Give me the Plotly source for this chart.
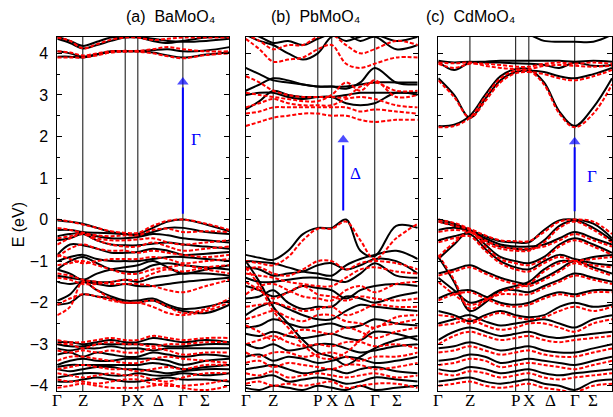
import plotly.graph_objects as go

W, H = 613, 417

# ---------------- data (eV) ----------------
# High-symmetry point positions (fraction of panel width): Γ, Z, P, X, Γ, end(Σ side)
KP_A = [0.0, 0.148, 0.395, 0.468, 0.730, 1.0]
KP_B = [0.0, 0.160, 0.419, 0.500, 0.750, 1.0]
KP_C = [0.0, 0.182, 0.445, 0.521, 0.785, 1.0]

K_LABELS = ["Γ", "Z", "P", "X", "Δ", "Γ", "Σ"]
DELTA_POS = [0.591, 0.601, 0.644]
SIGMA_POS = [0.859, 0.878, 0.893]
TITLES = ["(a)  BaMoO₄", "(b)  PbMoO₄", "(c)  CdMoO₄"]

# band energies sampled at 12 points along the path
A_BLACK = [
    [4.05, 4.0, 3.92, 3.98, 4.05, 4.05, 4.05, 4.02, 3.95, 3.9, 3.97, 4.02],
    [3.92, 3.92, 3.9, 3.97, 4.04, 4.05, 4.05, 4.08, 4.1, 4.05, 4.07, 4.15],
    [4.35, 4.25, 4.12, 4.2, 4.3, 4.38, 4.38, 4.3, 4.25, 4.3, 4.38, 4.4],
    [4.4, 4.3, 4.18, 4.28, 4.38, 4.4, 4.4, 4.35, 4.3, 4.28, 4.3, 4.35],
    [-0.02, -0.05, -0.1, -0.2, -0.3, -0.35, -0.35, -0.2, -0.05, 0.0, -0.12, -0.28],
    [-0.25, -0.25, -0.3, -0.32, -0.33, -0.35, -0.38, -0.3, -0.2, -0.2, -0.3, -0.35],
    [-0.4, -0.35, -0.32, -0.4, -0.45, -0.45, -0.42, -0.35, -0.38, -0.45, -0.5, -0.55],
    [-0.5, -0.45, -0.35, -0.5, -0.6, -0.62, -0.62, -0.58, -0.55, -0.6, -0.65, -0.7],
    [-0.85, -0.6, -0.62, -0.7, -0.8, -0.8, -0.78, -0.7, -0.75, -0.85, -0.82, -0.78],
    [-1.0, -0.9, -0.85, -0.95, -1.0, -1.0, -1.0, -0.95, -0.9, -0.9, -0.95, -1.0],
    [-1.2, -1.0, -0.9, -1.05, -1.2, -1.25, -1.25, -1.1, -1.05, -1.1, -1.15, -1.2],
    [-1.2, -1.3, -1.45, -1.3, -1.2, -1.15, -1.1, -1.0, -1.15, -1.3, -1.2, -1.1],
    [-1.35, -1.4, -1.45, -1.5, -1.5, -1.45, -1.5, -1.4, -1.35, -1.3, -1.3, -1.35],
    [-1.5, -1.55, -1.5, -1.55, -1.6, -1.55, -1.6, -1.6, -1.55, -1.5, -1.45, -1.4],
    [-1.95, -1.8, -1.5, -1.7, -1.85, -1.95, -1.95, -1.9, -2.05, -2.15, -2.1, -1.95],
    [-2.05, -2.0, -1.8, -1.85, -1.9, -2.0, -2.0, -1.95, -2.1, -2.2, -2.25, -2.05],
    [-2.95, -2.95, -3.0, -2.95, -2.9, -2.95, -2.95, -2.85, -2.9, -2.95, -2.9, -2.95],
    [-3.0, -3.05, -3.05, -3.0, -3.0, -3.0, -3.0, -3.0, -3.05, -3.05, -3.0, -3.0],
    [-3.1, -3.15, -3.1, -3.1, -3.05, -3.1, -3.1, -3.15, -3.1, -3.1, -3.1, -3.1],
    [-3.25, -3.2, -3.3, -3.2, -3.25, -3.3, -3.3, -3.2, -3.25, -3.3, -3.25, -3.3],
    [-3.5, -3.4, -3.35, -3.4, -3.4, -3.35, -3.35, -3.35, -3.4, -3.5, -3.4, -3.35],
    [-3.55, -3.5, -3.5, -3.5, -3.5, -3.5, -3.5, -3.45, -3.5, -3.6, -3.55, -3.5],
    [-3.6, -3.65, -3.6, -3.55, -3.55, -3.6, -3.6, -3.65, -3.7, -3.65, -3.6, -3.6],
    [-3.8, -3.75, -3.7, -3.7, -3.75, -3.75, -3.7, -3.75, -3.75, -3.7, -3.75, -3.7],
    [-3.9, -3.9, -3.85, -3.8, -3.85, -3.9, -3.9, -3.85, -3.8, -3.85, -3.85, -3.9],
]
A_RED = [
    [3.9, 3.9, 3.9, 3.95, 4.02, 4.04, 4.04, 4.0, 3.93, 3.88, 3.96, 4.0],
    [4.05, 4.02, 3.95, 4.0, 4.05, 4.06, 4.06, 4.1, 4.15, 4.1, 4.05, 4.05],
    [4.38, 4.3, 4.12, 4.22, 4.33, 4.38, 4.38, 4.32, 4.35, 4.38, 4.38, 4.38],
    [0.0, -0.05, -0.12, -0.2, -0.28, -0.32, -0.32, -0.15, -0.03, 0.0, -0.1, -0.25],
    [-0.2, -0.25, -0.32, -0.38, -0.4, -0.38, -0.38, -0.25, -0.22, -0.3, -0.28, -0.3],
    [-0.45, -0.4, -0.32, -0.45, -0.5, -0.5, -0.48, -0.45, -0.55, -0.6, -0.55, -0.5],
    [-0.6, -0.45, -0.35, -0.5, -0.6, -0.65, -0.65, -0.55, -0.65, -0.75, -0.7, -0.65],
    [-0.9, -0.7, -0.6, -0.7, -0.75, -0.75, -0.8, -0.75, -0.8, -0.85, -0.9, -0.85],
    [-0.85, -0.95, -1.05, -1.0, -0.95, -0.95, -0.95, -0.9, -0.95, -1.05, -1.0, -0.95],
    [-1.1, -1.05, -1.0, -1.1, -1.2, -1.3, -1.3, -1.2, -1.15, -1.1, -1.2, -1.3],
    [-1.4, -1.45, -1.55, -1.55, -1.5, -1.45, -1.45, -1.3, -1.2, -1.25, -1.15, -1.1],
    [-1.3, -1.35, -1.45, -1.5, -1.55, -1.55, -1.55, -1.6, -1.7, -1.75, -1.6, -1.45],
    [-2.3, -2.1, -1.5, -1.7, -1.9, -2.0, -2.0, -2.1, -2.25, -2.3, -2.2, -2.0],
    [-2.05, -1.9, -1.8, -1.85, -1.95, -2.0, -2.0, -1.95, -2.1, -2.25, -2.15, -1.9],
    [-2.9, -2.95, -2.95, -2.9, -2.85, -2.9, -2.9, -2.8, -2.85, -2.9, -2.85, -2.85],
    [-3.0, -3.0, -3.1, -3.0, -2.95, -3.0, -3.0, -3.05, -3.0, -3.0, -2.95, -2.95],
    [-3.15, -3.2, -3.15, -3.2, -3.15, -3.2, -3.2, -3.1, -3.15, -3.25, -3.2, -3.2],
    [-3.4, -3.3, -3.3, -3.35, -3.4, -3.45, -3.45, -3.35, -3.3, -3.35, -3.4, -3.45],
    [-3.6, -3.55, -3.5, -3.55, -3.6, -3.6, -3.65, -3.6, -3.55, -3.6, -3.5, -3.5],
    [-3.7, -3.75, -3.8, -3.75, -3.7, -3.75, -3.75, -3.85, -3.9, -3.8, -3.7, -3.7],
    [-3.85, -3.9, -3.9, -3.95, -3.9, -3.85, -3.85, -3.95, -4.0, -4.0, -3.95, -3.85],
    [-4.05, -4.0, -3.95, -4.0, -4.05, -4.05, -4.05, -4.0, -3.95, -4.05, -4.1, -4.0],
]

B_BLACK = [
    [3.65, 3.5, 3.35, 3.3, 3.25, 3.2, 3.2, 3.15, 3.3, 3.65, 3.3, 3.25],
    [3.1, 3.25, 3.4, 3.35, 3.25, 3.2, 3.2, 3.2, 3.25, 3.3, 3.3, 3.3],
    [2.65, 2.85, 3.1, 3.0, 2.95, 2.95, 2.95, 2.8, 2.75, 2.8, 3.05, 3.0],
    [3.0, 3.05, 3.05, 2.95, 2.9, 2.95, 2.95, 3.0, 3.05, 3.05, 3.05, 3.05],
    [4.45, 4.3, 4.2, 4.0, 3.85, 4.0, 4.4, 4.45, 4.3, 4.4, 4.1, 4.2],
    [4.5, 4.4, 4.25, 4.3, 4.2, 4.35, 4.45, 4.3, 4.4, 4.45, 4.3, 4.4],
    [-0.85, -0.92, -0.97, -0.75, -0.35, -0.2, -0.2, 0.0, -0.75, -0.88, -0.15, -0.2],
    [-1.0, -1.02, -1.05, -1.15, -1.25, -1.3, -1.35, -1.1, -0.95, -0.85, -0.75, -0.95],
    [-1.15, -1.2, -1.35, -1.3, -1.25, -1.1, -1.05, -1.2, -1.1, -0.95, -1.0, -1.3],
    [-1.4, -1.5, -1.5, -1.45, -1.4, -1.4, -1.45, -1.5, -1.3, -1.05, -1.35, -1.4],
    [-1.6, -1.7, -1.85, -1.75, -1.6, -1.65, -1.7, -1.9, -1.7, -1.6, -1.55, -1.6],
    [-1.9, -1.85, -1.7, -2.0, -2.15, -2.1, -2.1, -1.85, -1.9, -2.0, -1.85, -1.75],
    [-2.3, -2.1, -2.0, -2.15, -2.3, -2.4, -2.4, -2.2, -2.05, -2.1, -2.15, -2.2],
    [-2.6, -2.55, -2.4, -2.5, -2.6, -2.55, -2.5, -2.6, -2.55, -2.4, -2.5, -2.55],
    [-2.75, -2.8, -2.7, -2.8, -2.85, -2.8, -2.75, -2.85, -2.9, -2.7, -2.75, -2.9],
    [-3.0, -3.1, -3.0, -3.15, -3.1, -3.0, -3.0, -3.1, -3.2, -3.15, -3.05, -3.0],
    [-3.3, -3.25, -3.4, -3.3, -3.35, -3.45, -3.4, -3.3, -3.35, -3.45, -3.4, -3.3],
    [-3.6, -3.55, -3.5, -3.6, -3.7, -3.65, -3.6, -3.7, -3.6, -3.55, -3.65, -3.7],
    [-3.85, -3.8, -3.75, -3.9, -3.85, -3.8, -3.85, -3.95, -3.9, -3.8, -3.85, -3.9],
    [-4.05, -4.1, -4.0, -4.05, -4.1, -4.0, -4.05, -4.1, -4.0, -4.1, -4.05, -4.0],
    [-1.0, -1.5, -2.1, -2.5, -2.9, -3.2, -3.3, -3.5, -3.3, -3.1, -2.9, -2.8],
]
B_RED = [
    [2.25, 2.35, 2.45, 2.5, 2.55, 2.55, 2.5, 2.5, 2.4, 2.35, 2.4, 2.4],
    [2.55, 2.6, 2.7, 2.7, 2.7, 2.7, 2.7, 2.7, 2.6, 2.65, 2.6, 2.55],
    [2.7, 2.8, 2.9, 2.8, 2.75, 2.75, 2.75, 2.9, 2.95, 2.9, 2.75, 2.7],
    [3.05, 3.0, 2.95, 2.9, 2.85, 2.85, 3.0, 3.3, 3.1, 3.35, 2.95, 3.0],
    [3.45, 3.3, 3.1, 3.0, 2.95, 2.95, 2.95, 2.95, 3.2, 3.3, 3.1, 3.1],
    [4.35, 4.1, 3.8, 3.85, 3.9, 4.1, 4.2, 3.75, 3.65, 3.75, 3.9, 3.9],
    [4.45, 4.3, 4.1, 4.2, 4.2, 4.4, 4.45, 4.2, 4.0, 4.1, 4.3, 4.2],
    [-1.0, -1.05, -1.1, -0.9, -0.5, -0.22, -0.22, -0.05, -0.5, -0.95, -0.45, -0.1],
    [-1.2, -1.15, -1.3, -1.35, -1.2, -1.0, -1.0, -1.2, -1.05, -1.0, -1.05, -1.2],
    [-1.3, -1.35, -1.4, -1.5, -1.55, -1.6, -1.6, -1.4, -1.2, -1.15, -1.25, -1.3],
    [-1.5, -1.7, -1.9, -1.75, -1.6, -1.8, -1.85, -1.95, -1.85, -1.9, -1.95, -1.9],
    [-1.8, -1.6, -1.55, -1.7, -1.85, -1.9, -1.95, -1.7, -1.6, -1.75, -1.55, -1.5],
    [-2.1, -2.05, -2.0, -2.1, -2.2, -2.15, -2.1, -2.3, -2.2, -2.05, -2.1, -2.1],
    [-2.4, -2.3, -2.2, -2.35, -2.45, -2.3, -2.3, -2.45, -2.5, -2.6, -2.35, -2.3],
    [-2.55, -2.7, -2.9, -2.75, -2.65, -2.7, -2.75, -2.6, -2.7, -2.85, -2.7, -2.6],
    [-3.0, -2.9, -2.8, -2.95, -3.05, -3.0, -3.05, -2.95, -2.95, -3.05, -3.0, -3.1],
    [-3.2, -3.3, -3.2, -3.2, -3.3, -3.25, -3.2, -3.3, -3.4, -3.3, -3.3, -3.2],
    [-3.45, -3.4, -3.55, -3.45, -3.5, -3.55, -3.6, -3.5, -3.5, -3.6, -3.55, -3.45],
    [-3.7, -3.75, -3.65, -3.8, -3.75, -3.7, -3.75, -3.8, -3.75, -3.7, -3.8, -3.75],
    [-3.95, -3.9, -4.0, -3.95, -4.0, -3.95, -3.9, -4.05, -4.0, -3.95, -3.95, -4.05],
    [-1.15, -1.6, -2.2, -2.6, -3.0, -3.3, -3.35, -3.2, -2.9, -2.6, -2.5, -2.4],
]

C_BLACK = [
    [2.25, 2.28, 2.5, 3.0, 3.45, 3.62, 3.62, 3.3, 2.6, 2.25, 2.7, 3.4],
    [3.4, 3.0, 2.45, 2.9, 3.35, 3.55, 3.58, 3.55, 3.45, 3.4, 3.5, 3.65],
    [3.8, 3.6, 3.78, 3.8, 3.82, 3.82, 3.82, 3.82, 3.82, 3.8, 3.82, 3.8],
    [3.82, 3.78, 3.8, 3.78, 3.78, 3.76, 3.75, 3.72, 3.65, 3.78, 3.7, 3.72],
    [4.45, 4.5, 4.5, 4.5, 4.5, 4.5, 4.45, 4.3, 4.28, 4.28, 4.28, 4.45],
    [0.0, -0.1, -0.25, -0.4, -0.52, -0.55, -0.55, -0.25, -0.02, 0.0, -0.1, -0.45],
    [-0.05, -0.15, -0.27, -0.5, -0.65, -0.7, -0.72, -0.5, -0.15, -0.02, -0.2, -0.5],
    [-0.25, -0.2, -0.28, -0.45, -0.6, -0.65, -0.65, -0.6, -0.45, -0.3, -0.45, -0.6],
    [-0.95, -0.6, -0.27, -0.6, -0.9, -1.0, -1.05, -0.9, -0.6, -0.45, -0.6, -0.8],
    [-0.9, -1.5, -2.2, -2.0, -1.7, -1.6, -1.5, -1.2, -1.0, -1.0, -0.9, -0.85],
    [-0.5, -0.4, -0.35, -0.7, -1.0, -1.15, -1.2, -1.0, -0.85, -0.95, -1.05, -1.1],
    [-1.3, -1.2, -1.1, -1.25, -1.4, -1.5, -1.55, -1.4, -1.2, -1.0, -1.15, -1.3],
    [-1.4, -1.7, -2.0, -1.9, -1.7, -1.7, -1.75, -1.6, -1.45, -1.3, -1.4, -1.5],
    [-1.9, -1.75, -1.7, -1.85, -2.0, -2.05, -2.0, -1.85, -1.75, -1.8, -1.7, -1.7],
    [-2.2, -2.3, -2.45, -2.3, -2.2, -2.3, -2.35, -2.3, -2.1, -2.0, -2.1, -2.05],
    [-2.5, -2.4, -2.3, -2.45, -2.55, -2.5, -2.45, -2.4, -2.5, -2.6, -2.4, -2.3],
    [-2.9, -2.7, -2.6, -2.7, -2.8, -2.75, -2.7, -2.8, -2.85, -2.8, -2.75, -2.7],
    [-3.1, -3.05, -2.95, -3.05, -3.15, -3.1, -3.05, -3.15, -3.2, -3.2, -3.1, -3.0],
    [-3.4, -3.35, -3.25, -3.3, -3.45, -3.4, -3.35, -3.4, -3.45, -3.5, -3.4, -3.3],
    [-3.6, -3.65, -3.55, -3.6, -3.7, -3.65, -3.6, -3.7, -3.75, -3.7, -3.65, -3.6],
    [-3.9, -3.85, -3.8, -3.9, -3.95, -3.9, -3.85, -3.95, -4.0, -4.1, -3.9, -3.85],
]
C_RED = [
    [2.22, 2.25, 2.45, 2.95, 3.4, 3.58, 3.58, 3.25, 2.55, 2.22, 2.55, 3.25],
    [3.35, 2.95, 2.45, 2.85, 3.3, 3.52, 3.55, 3.5, 3.4, 3.35, 3.45, 3.6],
    [3.75, 3.65, 3.75, 3.75, 3.72, 3.68, 3.68, 3.75, 3.78, 3.75, 3.78, 3.75],
    [3.78, 3.76, 3.78, 3.7, 3.65, 3.62, 3.62, 3.7, 3.72, 3.7, 3.68, 3.7],
    [0.0, -0.08, -0.22, -0.38, -0.5, -0.52, -0.52, -0.3, -0.05, 0.0, -0.05, -0.35],
    [-0.05, -0.15, -0.25, -0.55, -0.7, -0.75, -0.75, -0.55, -0.2, -0.05, -0.25, -0.55],
    [-0.3, -0.25, -0.3, -0.5, -0.65, -0.7, -0.7, -0.65, -0.5, -0.35, -0.5, -0.65],
    [-0.9, -0.55, -0.3, -0.65, -0.95, -1.05, -1.1, -0.95, -0.65, -0.5, -0.65, -0.85],
    [-0.85, -1.45, -2.15, -1.95, -1.75, -1.65, -1.55, -1.25, -1.05, -1.0, -0.95, -0.9],
    [-0.55, -0.45, -0.4, -0.75, -1.05, -1.2, -1.25, -1.05, -0.9, -1.0, -1.1, -1.15],
    [-1.35, -1.25, -1.15, -1.3, -1.45, -1.55, -1.6, -1.45, -1.25, -1.05, -1.2, -1.35],
    [-1.5, -1.8, -2.05, -1.95, -1.8, -1.8, -1.8, -1.65, -1.5, -1.35, -1.45, -1.55],
    [-1.95, -1.8, -1.75, -1.9, -2.05, -2.1, -2.05, -1.9, -1.8, -1.85, -1.75, -1.75],
    [-2.3, -2.35, -2.5, -2.35, -2.25, -2.35, -2.4, -2.35, -2.2, -2.1, -2.2, -2.1],
    [-2.55, -2.5, -2.4, -2.55, -2.65, -2.6, -2.5, -2.5, -2.6, -2.7, -2.5, -2.4],
    [-3.0, -2.8, -2.7, -2.8, -2.9, -2.85, -2.8, -2.9, -2.95, -2.9, -2.85, -2.8],
    [-3.2, -3.15, -3.05, -3.15, -3.25, -3.2, -3.15, -3.25, -3.3, -3.3, -3.2, -3.1],
    [-3.5, -3.45, -3.35, -3.4, -3.55, -3.5, -3.45, -3.5, -3.55, -3.6, -3.5, -3.4],
    [-3.7, -3.75, -3.65, -3.7, -3.8, -3.75, -3.7, -3.8, -3.85, -3.8, -3.75, -3.7],
    [-4.0, -3.95, -3.9, -4.0, -4.05, -4.0, -3.95, -4.05, -4.1, -4.15, -4.0, -3.95],
]

# arrows: (label, x position, E start, E tip, label x, label E)
ARROWS = [
    ("Γ", 0.730, 0.14, 3.44, 0.806, 1.93),
    ("Δ", 0.567, 0.22, 2.05, 0.641, 1.10),
    ("Γ", 0.785, 0.20, 2.00, 0.887, 1.03),
]

YMIN, YMAX = -4.13, 4.40

# ---------------- layout helpers ----------------
PANEL_PX = [(57.3, 229.3), (245.7, 417.7), (438.3, 612.0)]
TOP_PX, BOT_PX = 37.0, 394.0
TITLE_X = [124, 315, 517]
HEAD_E = 0.26  # arrow head length in eV


def knots(kp):
    g0, z, p, x, g1, e = kp
    return [g0, (g0 + z) / 2, z, z + (p - z) / 3, z + 2 * (p - z) / 3, p,
            x, x + (g1 - x) / 3, x + 2 * (g1 - x) / 3, g1, (g1 + e) / 2, e]


fig = go.Figure()
panels = [(KP_A, A_BLACK, A_RED), (KP_B, B_BLACK, B_RED), (KP_C, C_BLACK, C_RED)]
shapes = []
annotations = []
font_sans = "Arial, Liberation Sans, DejaVu Sans, sans-serif"
font_serif = "Times New Roman, Liberation Serif, serif"

for i, (kp, blk, red) in enumerate(panels):
    xa = "x" if i == 0 else f"x{i+1}"
    ya = "y" if i == 0 else f"y{i+1}"
    kx = knots(kp)
    for band in blk:
        fig.add_trace(go.Scatter(x=kx, y=band, mode="lines", xaxis=xa, yaxis=ya,
                                 line=dict(color="black", width=2, shape="spline", smoothing=1.0),
                                 showlegend=False, hoverinfo="skip"))
    for band in red:
        fig.add_trace(go.Scatter(x=kx, y=band, mode="lines", xaxis=xa, yaxis=ya,
                                 line=dict(color="#ff0000", width=2, shape="spline", smoothing=1.0,
                                           dash="4px,2px"),
                                 showlegend=False, hoverinfo="skip"))
    # vertical high-symmetry lines
    for xv in kp[1:5]:
        shapes.append(dict(type="line", xref=xa, yref=ya, x0=xv, x1=xv, y0=YMIN, y1=YMAX,
                           line=dict(color="#333333", width=1.2), layer="below"))
    # k labels
    xs = [kp[0], kp[1], kp[2], kp[3], DELTA_POS[i], kp[4], SIGMA_POS[i]]
    for lab, xv in zip(K_LABELS, xs):
        annotations.append(dict(x=xv, y=(H - 403) / H, xref=xa, yref="paper", text=lab,
                                showarrow=False, font=dict(family=font_serif, size=17, color="black"),
                                xanchor="center", yanchor="middle"))
    # arrow (shaft + head)
    lab, ax_x, e0, e1, lx, ly = ARROWS[i]
    fig.add_trace(go.Scatter(x=[ax_x, ax_x], y=[e0, e1 - HEAD_E], mode="lines", xaxis=xa, yaxis=ya,
                             line=dict(color="#0000ff", width=2), showlegend=False, hoverinfo="skip"))
    fig.add_trace(go.Scatter(x=[ax_x], y=[e1 - HEAD_E / 2], mode="markers", xaxis=xa, yaxis=ya,
                             marker=dict(symbol="triangle-up", size=[10], color="#0000ff",
                                         line=dict(width=0)),
                             showlegend=False, hoverinfo="skip"))
    annotations.append(dict(x=lx, y=ly, xref=xa, yref=ya, text=lab, showarrow=False,
                            font=dict(family=font_serif, size=17, color="#0000ff")))
    # title
    annotations.append(dict(x=TITLE_X[i] / W, y=(H - 17) / H, xref="paper", yref="paper",
                            text=TITLES[i], showarrow=False, yanchor="middle",
                            font=dict(family=font_sans, size=16, color="black")))

annotations.append(dict(x=18 / W, y=(H - 227) / H, xref="paper", yref="paper", text="E (eV)",
                        textangle=-90, showarrow=False, yanchor="middle", xanchor="center",
                        font=dict(family=font_sans, size=16, color="black")))

layout = dict(width=W, height=H, margin=dict(l=0, r=0, t=0, b=0),
              paper_bgcolor="white", plot_bgcolor="white",
              shapes=shapes, annotations=annotations)
for i, (l, r) in enumerate(PANEL_PX):
    xk = "xaxis" if i == 0 else f"xaxis{i+1}"
    yk = "yaxis" if i == 0 else f"yaxis{i+1}"
    xa = "x" if i == 0 else f"x{i+1}"
    ya = "y" if i == 0 else f"y{i+1}"
    layout[xk] = dict(domain=[l / W, r / W], range=[0, 1], anchor=ya, showgrid=False,
                      zeroline=False, showticklabels=False, ticks="", showline=True,
                      linecolor="black", linewidth=1, mirror=True)
    layout[yk] = dict(domain=[1 - BOT_PX / H, 1 - TOP_PX / H], range=[YMIN, YMAX], anchor=xa,
                      showgrid=False, zeroline=False, showline=True, linecolor="black",
                      linewidth=1, mirror="allticks", ticks="inside", ticklen=5, tickwidth=1,
                      tickcolor="black", dtick=1, tick0=0, showticklabels=(i == 0),
                      tickfont=dict(family=font_sans, size=16, color="black"),
                      ticklabelstandoff=5,
                      minor=dict(dtick=0.5, tick0=0, ticks="inside", ticklen=3,
                                 tickcolor="black", tickwidth=1))
fig.update_layout(**layout)
fig.write_html("out.html")
